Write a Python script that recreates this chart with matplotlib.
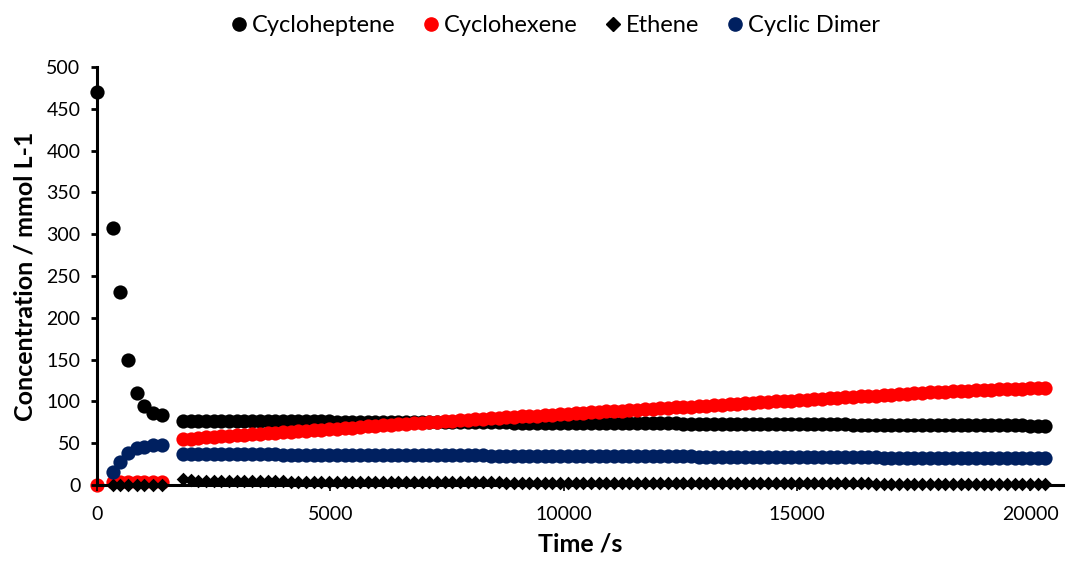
# -*- coding: utf-8 -*-
"""
Concentration vs time for the cycloheptene ring contraction run
"""

# Importing the libraries required
import numpy as np
import matplotlib
matplotlib.use("Agg")
import matplotlib.pyplot as plt
from matplotlib.lines import Line2D

plt.rcParams['font.family'] = ['Lato', 'DejaVu Sans']

# early samples (s)
early_time = [0, 335, 500, 670, 850, 1010, 1190, 1385]
early_heptene = [470, 308, 231, 150, 110, 94, 86.5, 84]
early_hexene = [0, 4, 4, 4, 4, 4, 4, 4]
early_ethene_time = [335, 500, 670, 850, 1010, 1190, 1385]
early_ethene = [0.3, 0.3, 0.3, 0.3, 0.3, 0.3, 0.3]
early_dimer_time = [335, 500, 670, 850, 1010, 1190, 1385]
early_dimer = [16, 27, 38, 44, 46, 48, 48]

# later samples, one every 165 s from 1840 s
late_time = np.arange(1840, 20330, 165)
late_heptene = [
    77.0, 76.9, 76.9, 76.8, 76.8, 76.7, 76.7, 76.6, 76.6, 76.5,
    76.5, 76.4, 76.4, 76.3, 76.3, 76.2, 76.1, 76.1, 76.0, 76.0,
    75.9, 75.9, 75.8, 75.8, 75.7, 75.7, 75.6, 75.6, 75.5, 75.4,
    75.4, 75.3, 75.3, 75.2, 75.2, 75.1, 75.1, 75.0, 75.0, 74.9,
    74.9, 74.8, 74.8, 74.7, 74.6, 74.6, 74.5, 74.5, 74.4, 74.4,
    74.3, 74.3, 74.2, 74.2, 74.1, 74.1, 74.0, 73.9, 73.9, 73.8,
    73.8, 73.7, 73.7, 73.6, 73.6, 73.5, 73.5, 73.4, 73.4, 73.3,
    73.2, 73.2, 73.1, 73.1, 73.0, 73.0, 72.9, 72.9, 72.8, 72.8,
    72.7, 72.7, 72.6, 72.6, 72.5, 72.4, 72.4, 72.3, 72.3, 72.2,
    72.2, 72.1, 72.1, 72.0, 72.0, 71.9, 71.9, 71.8, 71.7, 71.7,
    71.6, 71.6, 71.5, 71.5, 71.4, 71.4, 71.3, 71.3, 71.2, 71.2,
    71.1, 71.1, 71.0]
late_hexene = [
    55.0, 55.6, 56.2, 56.9, 57.5, 58.1, 58.7, 59.4, 60.0, 60.6,
    61.2, 61.9, 62.5, 63.1, 63.7, 64.3, 65.0, 65.6, 66.2, 66.8,
    67.5, 68.1, 68.7, 69.3, 70.0, 70.6, 71.2, 71.8, 72.4, 73.1,
    73.7, 74.3, 74.9, 75.6, 76.2, 76.8, 77.4, 78.1, 78.7, 79.3,
    79.8, 80.4, 80.9, 81.4, 82.0, 82.5, 83.1, 83.6, 84.2, 84.7,
    85.2, 85.8, 86.3, 86.9, 87.4, 88.0, 88.5, 89.0, 89.6, 90.1,
    90.7, 91.2, 91.8, 92.3, 92.8, 93.4, 93.9, 94.5, 95.0, 95.6,
    96.1, 96.6, 97.2, 97.7, 98.3, 98.8, 99.3, 99.9, 100.4, 101.0,
    101.5, 102.1, 102.6, 103.1, 103.7, 104.2, 104.8, 105.3, 105.9, 106.4,
    106.9, 107.5, 108.0, 108.6, 109.1, 109.6, 110.2, 110.7, 111.3, 111.8,
    112.1, 112.5, 112.9, 113.2, 113.6, 114.0, 114.3, 114.7, 115.1, 115.4,
    115.8, 116.2, 116.5]
late_ethene = [
    7.0, 5.5, 5.2, 5.0, 4.9, 4.8, 4.7, 4.6, 4.5, 4.4,
    4.4, 4.3, 4.2, 4.2, 4.1, 4.0, 4.0, 3.9, 3.9, 3.8,
    3.8, 3.7, 3.7, 3.6, 3.6, 3.5, 3.5, 3.5, 3.4, 3.4,
    3.3, 3.3, 3.3, 3.2, 3.2, 3.2, 3.1, 3.1, 3.1, 3.0,
    3.0, 3.0, 2.9, 2.9, 2.9, 2.9, 2.8, 2.8, 2.8, 2.7,
    2.7, 2.7, 2.7, 2.6, 2.6, 2.6, 2.6, 2.5, 2.5, 2.5,
    2.5, 2.4, 2.4, 2.4, 2.4, 2.3, 2.3, 2.3, 2.3, 2.3,
    2.2, 2.2, 2.2, 2.2, 2.1, 2.1, 2.1, 2.1, 2.1, 2.0,
    2.0, 2.0, 2.0, 2.0, 1.9, 1.9, 1.9, 1.9, 1.9, 1.9,
    1.8, 1.8, 1.8, 1.8, 1.8, 1.8, 1.7, 1.7, 1.7, 1.7,
    1.7, 1.7, 1.6, 1.6, 1.6, 1.6, 1.6, 1.6, 1.5, 1.5,
    1.5, 1.5, 1.5]
late_dimer = [
    37.0, 37.0, 36.9, 36.9, 36.8, 36.8, 36.7, 36.7, 36.6, 36.6,
    36.6, 36.5, 36.5, 36.4, 36.4, 36.3, 36.3, 36.2, 36.2, 36.2,
    36.1, 36.1, 36.0, 36.0, 35.9, 35.9, 35.8, 35.8, 35.8, 35.7,
    35.7, 35.6, 35.6, 35.5, 35.5, 35.4, 35.4, 35.3, 35.3, 35.3,
    35.2, 35.2, 35.1, 35.1, 35.0, 35.0, 34.9, 34.9, 34.9, 34.8,
    34.8, 34.7, 34.7, 34.6, 34.6, 34.5, 34.5, 34.5, 34.4, 34.4,
    34.3, 34.3, 34.2, 34.2, 34.1, 34.1, 34.1, 34.0, 34.0, 33.9,
    33.9, 33.8, 33.8, 33.7, 33.7, 33.7, 33.6, 33.6, 33.5, 33.5,
    33.4, 33.4, 33.3, 33.3, 33.2, 33.2, 33.2, 33.1, 33.1, 33.0,
    33.0, 32.9, 32.9, 32.8, 32.8, 32.8, 32.7, 32.7, 32.6, 32.6,
    32.5, 32.5, 32.4, 32.4, 32.4, 32.3, 32.3, 32.2, 32.2, 32.1,
    32.1, 32.0, 32.0]

labels = ['Cycloheptene', 'Cyclohexene', 'Ethene', 'Cyclic Dimer']
colors = ['black', '#FF0000', 'black', '#002060']


def plot_concentrations():
    '''
    scatter plot of the four species against time, Excel style
    '''
    fig = plt.figure(figsize=(10.67, 5.62), dpi=100)
    ax = fig.add_axes([0.0909, 0.137, 0.9054, 0.7438])

    circle = dict(marker='o', s=105, linewidths=0, clip_on=False)
    diamond = dict(marker='D', s=48, linewidths=0, clip_on=False)

    # same drawing order as the spreadsheet series
    ax.scatter(early_time, early_heptene, color=colors[0], **circle)
    ax.scatter(late_time, late_heptene, color=colors[0], **circle)
    ax.scatter(early_time, early_hexene, color=colors[1], **circle)
    ax.scatter(late_time, late_hexene, color=colors[1], **circle)
    ax.scatter(early_ethene_time, early_ethene, color=colors[2], **diamond)
    ax.scatter(late_time, late_ethene, color=colors[2], **diamond)
    ax.scatter(early_dimer_time, early_dimer, color=colors[3], **circle)
    ax.scatter(late_time, late_dimer, color=colors[3], **circle)

    ax.set_xlim(0, 20700)
    ax.set_ylim(0, 500)
    ax.set_xticks([0, 5000, 10000, 15000, 20000])
    ax.set_yticks(np.arange(0, 501, 50))

    for side in ['top', 'right']:
        ax.spines[side].set_visible(False)
    for side in ['left', 'bottom']:
        ax.spines[side].set_linewidth(2.2)
    ax.tick_params(axis='y', direction='out', length=4, width=2, pad=8,
                   labelsize=14)
    ax.tick_params(axis='x', direction='out', length=4, width=1.2, pad=11,
                   labelsize=14)

    ax.set_xlabel('Time /s', fontsize=18, fontweight='bold', labelpad=7)
    ax.set_ylabel('Concentration / mmol L-1', fontsize=18, fontweight='bold',
                  labelpad=7)

    # legend across the top
    handles = [
        Line2D([], [], ls='none', marker='o', ms=9.5, color=colors[0]),
        Line2D([], [], ls='none', marker='o', ms=9.5, color=colors[1]),
        Line2D([], [], ls='none', marker='D', ms=7.5, color=colors[2]),
        Line2D([], [], ls='none', marker='o', ms=9.5, color=colors[3]),
    ]
    fig.legend(handles, labels, loc='center', bbox_to_anchor=(0.519, 0.955),
               ncol=4, frameon=False, fontsize=17, handletextpad=0.05,
               columnspacing=1.0, handlelength=1.0)

    fig.savefig('out.png', dpi=100)


if __name__ == "__main__":
    plot_concentrations()
